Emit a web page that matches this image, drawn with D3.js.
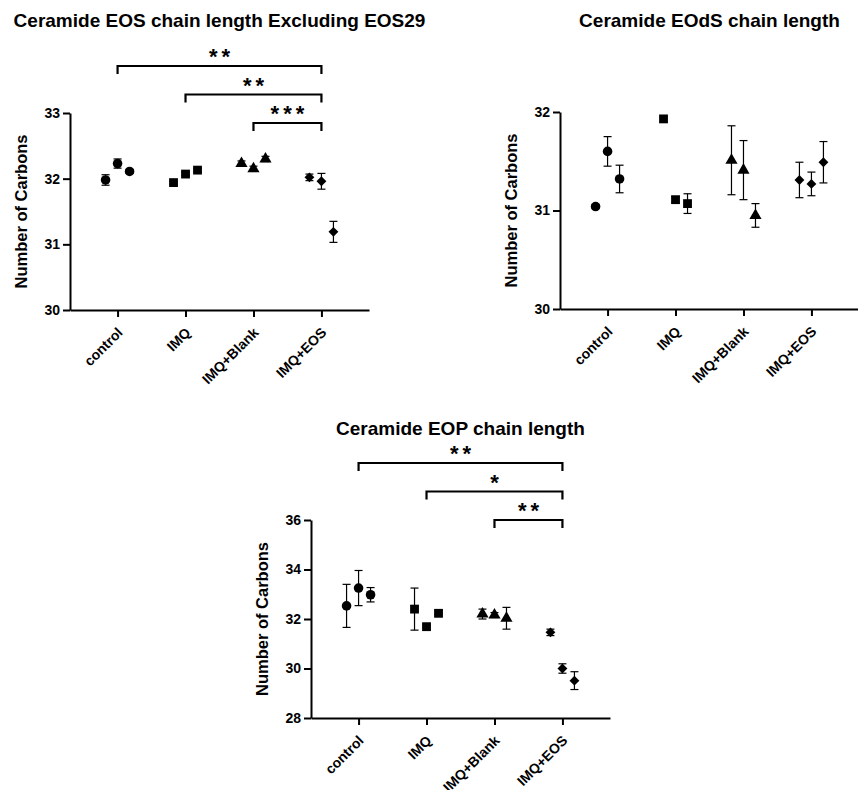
<!DOCTYPE html>
<html>
<head>
<meta charset="utf-8">
<script src="https://cdn.jsdelivr.net/npm/d3@7"></script>
<style>
  body { margin: 0; background: #fff; }
  svg { display: block; font-family: "Liberation Sans", Arial, sans-serif; }
</style>
</head>
<body>
<svg id="chart" width="858" height="790"></svg>
<script>
// data
const groups = ["control", "IMQ", "IMQ+Blank", "IMQ+EOS"];

const eosMean = [[31.98, 32.23, 32.11], [31.94, 32.07, 32.13], [32.23, 32.15, 32.30], [32.02, 31.96, 31.19]];
const eosErr  = [[0.08, 0.07, 0.03], [0.02, 0.02, 0.02], [0.04, 0.04, 0.04], [0.05, 0.12, 0.16]];
const eosTicks = [30, 31, 32, 33];
const eosSig = [{ a: 0, b: 3, label: "**" }, { a: 1, b: 3, label: "**" }, { a: 2, b: 3, label: "***" }];

const eodsMean = [[31.04, 31.60, 31.32], [31.93, 31.11, 31.07], [31.51, 31.41, 30.95], [31.31, 31.27, 31.49]];
const eodsErr  = [[0.02, 0.15, 0.14], [0.0, 0.03, 0.10], [0.35, 0.30, 0.12], [0.18, 0.12, 0.21]];
const eodsTicks = [30, 31, 32];

const eopMean = [[32.53, 33.25, 32.98], [32.40, 31.69, 32.23], [32.20, 32.16, 32.03], [31.46, 30.00, 29.51]];
const eopErr  = [[0.87, 0.71, 0.29], [0.85, 0.05, 0.05], [0.20, 0.10, 0.44], [0.13, 0.19, 0.36]];
const eopTicks = [28, 30, 32, 34, 36];
const eopSig = [{ a: 0, b: 3, label: "**" }, { a: 1, b: 3, label: "*" }, { a: 2, b: 3, label: "**" }];

const symbols = [d3.symbolCircle, d3.symbolSquare, d3.symbolTriangle, d3.symbolDiamond2];
const symSize = [72, 78, 64, 62];
const offsets = [-12, 0, 12];

const svg = d3.select("#chart");

function panel(cfg) {
  const g = svg.append("g");
  const x = d3.scalePoint().domain(groups).range([cfg.left, cfg.right]).padding(0.7);
  const y = d3.scaleLinear().domain(d3.extent(cfg.ticks)).range([cfg.bottom, cfg.top]);

  g.append("text")
    .attr("x", (cfg.left + cfg.right) / 2).attr("y", cfg.titleY)
    .attr("text-anchor", "middle").attr("font-size", 19).attr("font-weight", "bold")
    .text(cfg.title);

  g.append("text")
    .attr("transform", `translate(${cfg.left - 43},${(cfg.top + cfg.bottom) / 2}) rotate(-90)`)
    .attr("text-anchor", "middle").attr("font-size", 16.5).attr("font-weight", "bold")
    .text("Number of Carbons");

  const ya = g.append("g").attr("transform", `translate(${cfg.left},0)`)
    .call(d3.axisLeft(y).tickValues(cfg.ticks).tickSize(7).tickSizeOuter(0).tickFormat(d3.format("d")));
  const xa = g.append("g").attr("transform", `translate(0,${cfg.bottom})`)
    .call(d3.axisBottom(x).tickSize(7).tickSizeOuter(0));
  [ya, xa].forEach(a => {
    a.selectAll("path, line").attr("stroke", "#000").attr("stroke-width", 2);
    a.selectAll("text").attr("font-size", 14).attr("font-weight", "bold")
      .attr("font-family", "Liberation Sans, Arial, sans-serif").attr("fill", "#000");
  });
  xa.selectAll("text")
    .attr("x", 0).attr("y", 0).attr("dy", "0.35em")
    .attr("text-anchor", "end")
    .attr("transform", "translate(2,20) rotate(-45)");

  // error bars + markers
  cfg.mean.forEach((row, gi) => {
    row.forEach((m, k) => {
      const cx = x(groups[gi]) + offsets[k];
      const e = cfg.err[gi][k];
      const eb = g.append("g").attr("stroke", "#000").attr("stroke-width", 1.2);
      if (e > 0) {
        eb.append("line").attr("x1", cx).attr("x2", cx).attr("y1", y(m - e)).attr("y2", y(m + e));
        [m - e, m + e].forEach(v => eb.append("line")
          .attr("x1", cx - 4).attr("x2", cx + 4).attr("y1", y(v)).attr("y2", y(v)));
      }
      g.append("path")
        .attr("d", d3.symbol().type(symbols[gi]).size(symSize[gi]))
        .attr("transform", `translate(${cx},${y(m)})`)
        .attr("fill", "#000");
    });
  });

  // significance brackets
  (cfg.sig || []).forEach((s, i) => {
    const by = cfg.sigBase - (cfg.sig.length - 1 - i) * 28.5;
    const x1 = x(groups[s.a]), x2 = x(groups[s.b]);
    g.append("path")
      .attr("d", `M${x1},${by + 8}V${by}H${x2}V${by + 8}`)
      .attr("fill", "none").attr("stroke", "#000").attr("stroke-width", 2.2);
    g.append("text")
      .attr("x", (x1 + x2) / 2 + 2).attr("y", by - 2)
      .attr("text-anchor", "middle").attr("font-size", 22).attr("font-weight", "bold")
      .attr("letter-spacing", 4)
      .text(s.label);
  });
}

panel({ title: "Ceramide EOS chain length Excluding EOS29", titleY: 27,
  left: 70, right: 369, top: 113, bottom: 310, ticks: eosTicks,
  mean: eosMean, err: eosErr, sig: eosSig, sigBase: 123 });

panel({ title: "Ceramide EOdS chain length", titleY: 27,
  left: 560, right: 859, top: 112, bottom: 309, ticks: eodsTicks,
  mean: eodsMean, err: eodsErr });

panel({ title: "Ceramide EOP chain length", titleY: 435,
  left: 311, right: 610, top: 520, bottom: 718, ticks: eopTicks,
  mean: eopMean, err: eopErr, sig: eopSig, sigBase: 520 });
</script>
</body>
</html>
